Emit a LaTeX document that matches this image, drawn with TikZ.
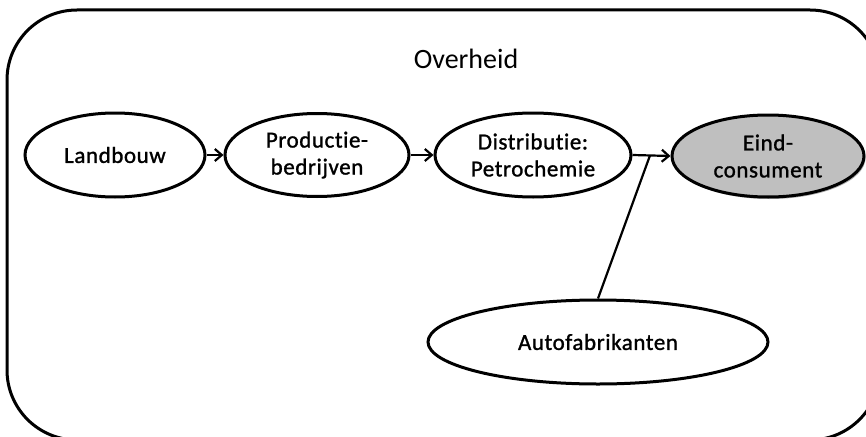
\documentclass[tikz,border=0pt]{standalone}
\usepackage{fontspec}
\setmainfont{Carlito}[Ligatures=NoCommon]
\newfontface\labelface{Carlito}[FakeBold=1.2, LetterSpace=2.5, Ligatures=NoCommon]
\usetikzlibrary{shapes.geometric,arrows.meta,shadows}

\tikzset{
  actor/.style={ellipse, draw=black, line width=3pt, fill=white, inner sep=0pt,
    align=center, font=\labelface\fontsize{23}{27}\selectfont},
  flow/.style={line width=2.2pt, -{Straight Barb[length=7pt,width=12pt,line width=2.2pt]}},
  link/.style={line width=2.2pt},
  frame/.style={draw=black, line width=3pt, rounded corners=70pt}
}

\begin{document}
\begin{tikzpicture}[x={(1pt,0)}, y={(0,-1pt)}]
  \useasboundingbox (0,0) rectangle (866,436);
  \clip (0,0) rectangle (866,436);

  % government frame, running past the right and bottom edges
  \draw[frame] (7,10) rectangle (880,440);
  \node[anchor=base, font=\fontsize{28}{34}\selectfont] (gov) at (466,68) {Overheid};

  % chain of actors
  \node[actor, minimum width=180pt, minimum height=84pt] (land) at (115,155) {Landbouw};
  \node[actor, minimum width=184pt, minimum height=83pt] (prod) at (317,155) {Productie-\\bedrijven};
  \node[actor, minimum width=196pt, minimum height=84pt] (dist) at (533,155) {Distributie:\\Petrochemie};
  \node[actor, minimum width=192pt, minimum height=82pt, fill={rgb,255:red,191;green,191;blue,191},
        drop shadow={shadow xshift=1.5pt, shadow yshift=-2pt, fill=black, opacity=0.35}]
        (eind) at (768,156) {Eind-\\consument};
  \node[actor, minimum width=340pt, minimum height=84pt] (auto) at (598,342) {Autofabrikanten};

  % flows
  \draw[flow] (land.east) -- (prod.west);
  \draw[flow] (prod.east) -- (dist.west);
  \draw[flow] (dist.east) -- coordinate[pos=0.46] (join) (eind.west);
  \draw[link] (auto.north) -- (join);
\end{tikzpicture}
\end{document}
